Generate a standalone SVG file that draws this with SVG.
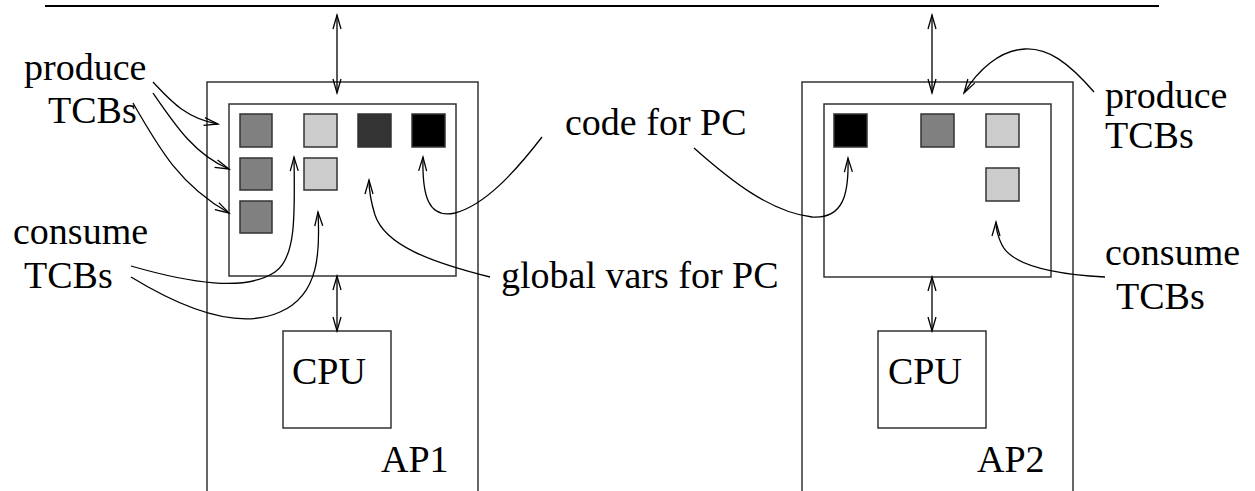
<svg xmlns="http://www.w3.org/2000/svg" width="1255" height="491" viewBox="0 0 1255 491">
  <style>
    .box { fill: none; stroke: #333; stroke-width: 1.5; }
    .tcb { stroke: #333; stroke-width: 1.5; }
    .g1 { fill: #808080; }
    .g2 { fill: #cccccc; }
    .g3 { fill: #333333; }
    .g4 { fill: #000000; }
    .lbl { font-family: "Liberation Serif", "Times New Roman", serif; font-size: 38px; fill: #000; }
    .conn path, .conn line { fill: none; stroke: #000; stroke-width: 1.3; }
    .arrow { marker-end: url(#head); }
    .both { marker-start: url(#head); marker-end: url(#head); }
  </style>
  <defs>
    <marker id="head" markerUnits="userSpaceOnUse" markerWidth="16" markerHeight="10" viewBox="-14 -5 16 10" refX="0" refY="0" orient="auto-start-reverse" overflow="visible">
      <path d="M-14,-4 L0,0 L-14,4" fill="none" stroke="#000" stroke-width="1.3"/>
    </marker>
  </defs>

  <rect width="1255" height="491" fill="#fff"/>

  <!-- shared bus -->
  <line id="bus" x1="45" y1="6" x2="1159" y2="6" stroke="#000" stroke-width="2"/>

  <!-- processor AP1 -->
  <g id="ap1">
    <path class="box" d="M207,495 L207,82 L478,82 L478,495"/>
    <text class="lbl" x="381" y="472">AP1</text>
  </g>
  <g id="mem1">
    <rect class="box" x="229" y="104" width="227" height="172"/>
    <rect class="tcb g1" x="240" y="114" width="32" height="33"/>
    <rect class="tcb g2" x="304" y="114" width="33" height="33"/>
    <rect class="tcb g3" x="358" y="114" width="33" height="33"/>
    <rect class="tcb g4" x="412" y="114" width="33" height="33"/>
    <rect class="tcb g1" x="240" y="158" width="32" height="32"/>
    <rect class="tcb g2" x="304" y="158" width="33" height="32"/>
    <rect class="tcb g1" x="240" y="201" width="32" height="32"/>
  </g>
  <g id="cpu1">
    <rect class="box" x="283" y="331" width="108" height="97"/>
    <text class="lbl" x="292" y="384">CPU</text>
  </g>

  <!-- processor AP2 -->
  <g id="ap2">
    <path class="box" d="M802,495 L802,82 L1073,82 L1073,495"/>
    <text class="lbl" x="977" y="472">AP2</text>
  </g>
  <g id="mem2">
    <rect class="box" x="824" y="104" width="227" height="173"/>
    <rect class="tcb g4" x="834" y="114" width="33" height="33"/>
    <rect class="tcb g1" x="921" y="114" width="33" height="33"/>
    <rect class="tcb g2" x="986" y="114" width="33" height="33"/>
    <rect class="tcb g2" x="986" y="168" width="33" height="33"/>
  </g>
  <g id="cpu2">
    <rect class="box" x="878" y="331" width="108" height="97"/>
    <text class="lbl" x="888" y="384">CPU</text>
  </g>

  <!-- annotation labels -->
  <g id="labels-left">
    <text class="lbl" x="24" y="80">produce</text>
    <text class="lbl" x="48" y="123">TCBs</text>
    <text class="lbl" x="13" y="244">consume</text>
    <text class="lbl" x="24" y="288">TCBs</text>
  </g>
  <g id="labels-mid">
    <text class="lbl" x="565" y="135">code for PC</text>
    <text class="lbl" x="501" y="288">global vars for PC</text>
  </g>
  <g id="labels-right">
    <text class="lbl" x="1105" y="108">produce</text>
    <text class="lbl" x="1105" y="148">TCBs</text>
    <text class="lbl" x="1105" y="265">consume</text>
    <text class="lbl" x="1116" y="309">TCBs</text>
  </g>

  <!-- connectors -->
  <g id="connectors" class="conn">
    <!-- bus and CPU links -->
    <line class="both" x1="337" y1="15" x2="337" y2="93"/>
    <line class="both" x1="337" y1="276" x2="337" y2="331"/>
    <line class="both" x1="932" y1="15" x2="932" y2="93"/>
    <line class="both" x1="932" y1="277" x2="932" y2="331"/>

    <!-- produce TCBs (AP1) -->
    <path class="arrow" d="M153,82 C170,100 185,118 218,124"/>
    <path class="arrow" d="M153,93 C175,125 195,155 229,169"/>
    <path class="arrow" d="M133,103 C160,150 180,185 229,213"/>

    <!-- consume TCBs (AP1) -->
    <path class="arrow" d="M131,266 C190,283 245,292 275,272 C296,258 295,215 294,157"/>
    <path class="arrow" d="M131,277 C185,310 240,330 280,312 C320,295 320,250 318,212"/>

    <!-- global vars for PC -->
    <path class="arrow" d="M490,277 C430,262 385,245 375,215 C371,202 369,192 369,180"/>

    <!-- code for PC -->
    <path class="arrow" d="M542,137 C515,172 485,205 455,213 C428,219 422,195 423,157"/>
    <path class="arrow" d="M694,148 C730,180 770,212 812,217 C843,219 849,195 848,158"/>

    <!-- produce TCBs (AP2) -->
    <path class="arrow" d="M1094,92 C1068,62 1048,48 1025,49 C1000,50 978,70 964,93"/>

    <!-- consume TCBs (AP2) -->
    <path class="arrow" d="M1105,277 C1050,274 1012,265 1002,245 C998,237 996,230 996,222"/>
  </g>
</svg>
